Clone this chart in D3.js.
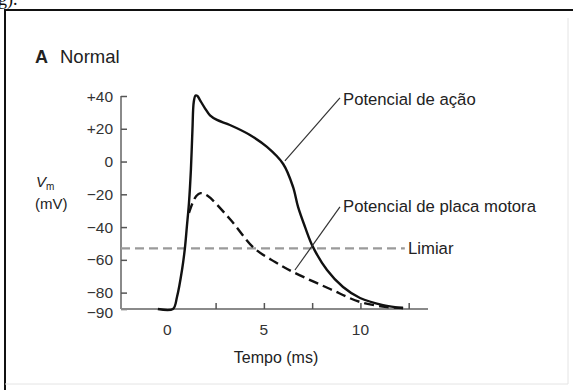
<!DOCTYPE html>
<html><head><meta charset="utf-8">
<script src="https://cdn.jsdelivr.net/npm/d3@7"></script>
<style>
html,body{margin:0;padding:0;background:#fff;}
svg{display:block;font-family:"Liberation Sans",Arial,Helvetica,sans-serif;}
</style></head>
<body>
<svg id="c" width="573" height="390"></svg>
<script>
// ---- data ----
const yTicks = [40, 20, 0, -20, -40, -60, -80, -90];
const yTickLabels = ["+40", "+20", "0", "\u221220", "\u221240", "\u221260", "\u221280", "\u221290"];
const xTicks = [2.5, 5, 7.5, 10, 12.5];
const xTickLabelValues = [0, 5, 10];
const xTickLabels = ["0", "5", "10"];

const apTime = [-0.49, 0.29, 0.5, 0.76, 0.91, 1.01, 1.12, 1.22, 1.3, 1.37, 1.46, 1.56, 1.69, 1.95, 2.21, 2.57, 3.24, 4.28, 5.16, 6.0, 6.51, 6.77, 7.13, 7.54, 8.27, 9.1, 9.98, 11.17, 12.21];
const apVolt = [-90, -90, -82.7, -66.2, -52.8, -39.9, -25.3, -5.1, 19.3, 36.5, 40.3, 40.0, 37.5, 32.5, 28.2, 25.4, 22.3, 16.2, 8.9, -1.5, -15.5, -27.7, -39.9, -52.1, -66.2, -76.6, -83.3, -87.6, -89.4];

const eppTime = [1.12, 1.3, 1.5, 1.72, 2.05, 3.24, 4.49, 5.58, 6.51, 8.43, 9.98, 11.38, 12.21];
const eppVolt = [-31.4, -25.5, -21, -19.3, -20.6, -35.1, -52.8, -61.3, -67.4, -77.8, -85.7, -88.8, -89.4];

const threshold = -53;
const thresholdEnd = 12.3;

const labels = ["Potencial de a\u00e7\u00e3o", "Potencial de placa motora", "Limiar"];
const leaderAP = [[8.94, 38.8], [6.09, 0.35]];
const leaderEPP = [[8.94, -27.7], [6.61, -66.2]];

// ---- scales ----
const svg = d3.select("#c");
const x = d3.scaleLinear().domain([-2.4, 13.5]).range([121, 428]);
const y = d3.scaleLinear().domain([-90, 40]).range([309, 96]);

// frame
svg.append("path").attr("d", "M5,390 L5,10 L573,10").attr("fill", "none").attr("stroke", "#111").attr("stroke-width", 2);
svg.append("path").attr("d", "M568,18 L568,384 L5,384").attr("fill", "none").attr("stroke", "#e4e4e4").attr("stroke-width", 1);
svg.append("text").attr("x", -2).attr("y", 5).attr("font-size", 18).attr("font-family", "Liberation Serif, serif").attr("fill", "#111").text("g).");

// axes
const axisColor = "#8a8a8a";
const gy = svg.append("g").attr("transform", `translate(${x(-2.4)},0)`)
  .call(d3.axisRight(y).tickValues(yTicks).tickSize(6).tickFormat(""));
const gx = svg.append("g").attr("transform", `translate(0,${y(-90)})`)
  .call(d3.axisTop(x).tickValues(xTicks).tickSize(6).tickFormat(""));
[gy, gx].forEach(g => {
  g.select(".domain").attr("stroke", axisColor).attr("stroke-width", 2);
  g.selectAll(".tick line").attr("stroke", "#555").attr("stroke-width", 1.5);
});
gy.select(".domain").attr("d", `M0,${y(40)}V${y(-90)}`);
gx.select(".domain").attr("d", `M${x(-2.4)},0H${x(13.5)}`);

// y tick labels
svg.append("g").selectAll("text").data(yTicks).join("text")
  .attr("x", x(-2.4) - 8)
  .attr("y", (d) => y(d) + (d === -90 ? 3 : 0))
  .attr("dy", "0.36em")
  .attr("text-anchor", "end")
  .attr("font-size", 15.5)
  .attr("fill", "#333")
  .text((d, i) => yTickLabels[i]);

// x tick labels
svg.append("g").selectAll("text").data(xTickLabelValues).join("text")
  .attr("x", d => x(d)).attr("y", 335)
  .attr("text-anchor", "middle").attr("font-size", 15.5).attr("fill", "#333")
  .text((d, i) => xTickLabels[i]);

// threshold
svg.append("line")
  .attr("x1", x(-2.4)).attr("x2", x(thresholdEnd))
  .attr("y1", y(threshold)).attr("y2", y(threshold))
  .attr("stroke", "#9a9a9a").attr("stroke-width", 2.2).attr("stroke-dasharray", "9,5");

const line = d3.line().x(d => x(d[0])).y(d => y(d[1])).curve(d3.curveCatmullRom.alpha(0.5));

// EPP
svg.append("path").datum(eppTime.map((t, i) => [t, eppVolt[i]]))
  .attr("d", line).attr("fill", "none").attr("stroke", "#111")
  .attr("stroke-width", 2.4).attr("stroke-dasharray", "10,5");

// AP
svg.append("path").datum(apTime.map((t, i) => [t, apVolt[i]]))
  .attr("d", line).attr("fill", "none").attr("stroke", "#111")
  .attr("stroke-width", 2.4).attr("stroke-linejoin", "round");

// leader lines
[leaderAP, leaderEPP].forEach(l => {
  svg.append("line").attr("x1", x(l[0][0])).attr("y1", y(l[0][1]))
    .attr("x2", x(l[1][0])).attr("y2", y(l[1][1]))
    .attr("stroke", "#333").attr("stroke-width", 1.2);
});

// annotation labels
const labFs = 16.7;
svg.append("text").attr("x", 343).attr("y", 105).attr("font-size", labFs).attr("fill", "#222").text(labels[0]);
svg.append("text").attr("x", 343).attr("y", 212).attr("font-size", labFs).attr("fill", "#222").text(labels[1]);
svg.append("text").attr("x", 408).attr("y", y(threshold) + 6).attr("font-size", labFs).attr("fill", "#222").text(labels[2]);

// title
svg.append("text").attr("x", 35).attr("y", 63).attr("font-size", 18).attr("font-weight", "bold").attr("fill", "#222").text("A");
svg.append("text").attr("x", 60).attr("y", 63).attr("font-size", 18.5).attr("fill", "#222").text("Normal");

// y axis title
const yt = svg.append("text").attr("x", 36).attr("y", 187).attr("font-size", 15).attr("fill", "#222");
yt.append("tspan").attr("font-style", "italic").text("V");
yt.append("tspan").attr("font-size", 10).attr("dy", 3).text("m");
svg.append("text").attr("x", 35).attr("y", 209).attr("font-size", 15).attr("fill", "#222").text("(mV)");

// x axis title
svg.append("text").attr("x", 276).attr("y", 363).attr("text-anchor", "middle").attr("font-size", 16).attr("fill", "#222").text("Tempo (ms)");
</script>
</body></html>
